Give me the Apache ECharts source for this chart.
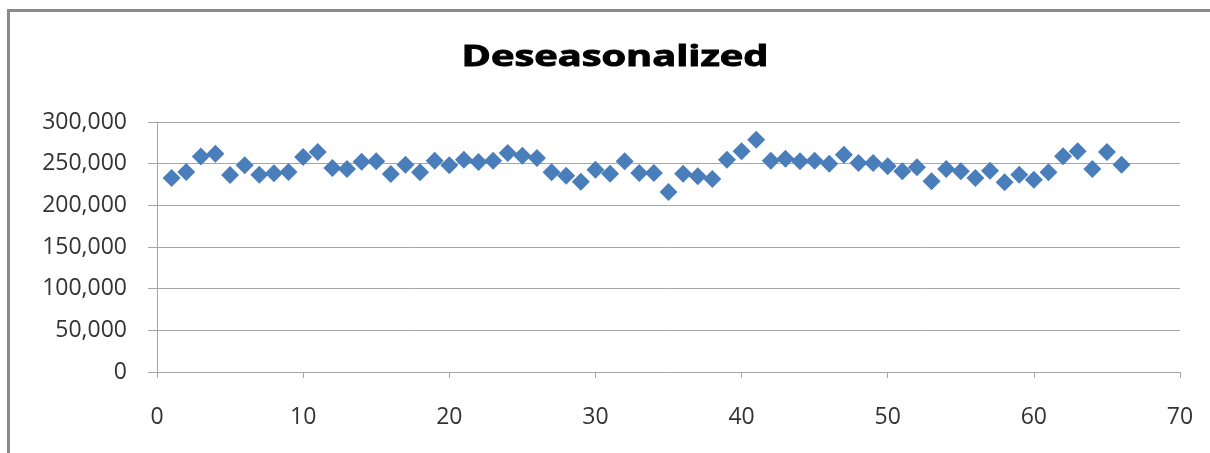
<!DOCTYPE html>
<html>
<head>
<meta charset="utf-8">
<title>Deseasonalized</title>
<script src="https://cdn.jsdelivr.net/npm/echarts@6/dist/echarts.min.js"></script>
<style>
  html, body { margin: 0; padding: 0; background: #fff; }
  #chart { width: 1210px; height: 453px; }
</style>
</head>
<body>
<div id="chart"></div>
<script>
// Period index (1..66) and deseasonalized value for each period
const periods = [
  1, 2, 3, 4, 5, 6, 7, 8, 9, 10,
  11, 12, 13, 14, 15, 16, 17, 18, 19, 20,
  21, 22, 23, 24, 25, 26, 27, 28, 29, 30,
  31, 32, 33, 34, 35, 36, 37, 38, 39, 40,
  41, 42, 43, 44, 45, 46, 47, 48, 49, 50,
  51, 52, 53, 54, 55, 56, 57, 58, 59, 60,
  61, 62, 63, 64, 65, 66
];
const deseasonalized = [
  232800, 240000, 258700, 262000, 236400, 248000, 236800, 238400, 240000, 258000,
  264000, 244800, 243600, 252400, 252800, 237600, 248800, 239600, 253600, 248000,
  254800, 252000, 253600, 262800, 259600, 256800, 239600, 235600, 228400, 242800,
  238000, 252800, 238800, 238800, 216000, 238000, 234800, 231600, 254800, 264800,
  278800, 253600, 256000, 252800, 253600, 250000, 260800, 250800, 250800, 246800,
  240800, 245600, 228800, 243600, 240800, 232800, 241600, 227600, 236800, 230800,
  239600, 258800, 264800, 243600, 264000, 248800
];

const chartTitle = 'Deseasonalized';

const xAxisRange = { min: 0, max: 70, interval: 10 };
const yAxisRange = { min: 0, max: 300000, interval: 50000 };

const points = periods.map((p, i) => [p, deseasonalized[i]]);

const axisGray = '#a6a6a6';
const labelColor = '#333333';
const labelFont = '"Open Sans", "Liberation Sans", sans-serif';

const chart = echarts.init(document.getElementById('chart'), null, { renderer: 'canvas' });

chart.setOption({
  animation: false,
  backgroundColor: '#ffffff',
  grid: { left: 157, right: 30, top: 122, bottom: 81, containLabel: false },
  graphic: [
    {
      // outer chart frame (top and left edges)
      type: 'polyline',
      silent: true,
      shape: { points: [[8.5, 460], [8.5, 10.5], [1215, 10.5]] },
      style: { stroke: '#8a8a8a', lineWidth: 3, fill: null }
    },
    {
      type: 'text',
      x: 615,
      y: 58,
      scaleX: 1.42,
      silent: true,
      style: {
        text: chartTitle,
        font: 'bold 28px "Open Sans", sans-serif',
        fill: '#000000',
        stroke: '#000000',
        lineWidth: 0.9,
        textAlign: 'center',
        textVerticalAlign: 'middle'
      }
    }
  ],
  xAxis: {
    type: 'value',
    min: xAxisRange.min,
    max: xAxisRange.max,
    interval: xAxisRange.interval,
    axisLine: { show: true, onZero: false, lineStyle: { color: axisGray, width: 1 } },
    axisTick: { show: true, inside: false, length: 6, lineStyle: { color: axisGray } },
    splitLine: { show: false },
    axisLabel: {
      color: labelColor,
      fontFamily: labelFont,
      fontSize: 23,
      margin: 34
    }
  },
  yAxis: {
    type: 'value',
    min: yAxisRange.min,
    max: yAxisRange.max,
    interval: yAxisRange.interval,
    axisLine: { show: true, lineStyle: { color: axisGray, width: 1 } },
    axisTick: { show: true, inside: false, length: 9, lineStyle: { color: axisGray } },
    splitLine: { show: true, lineStyle: { color: axisGray, width: 1 } },
    axisLabel: {
      color: labelColor,
      fontFamily: labelFont,
      fontSize: 23,
      margin: 30,
      formatter: v => v.toLocaleString('en-US')
    }
  },
  series: [
    {
      type: 'scatter',
      data: points,
      symbol: 'diamond',
      symbolSize: 18,
      itemStyle: { color: '#4a7ebb', opacity: 1 }
    }
  ]
});
</script>
</body>
</html>
